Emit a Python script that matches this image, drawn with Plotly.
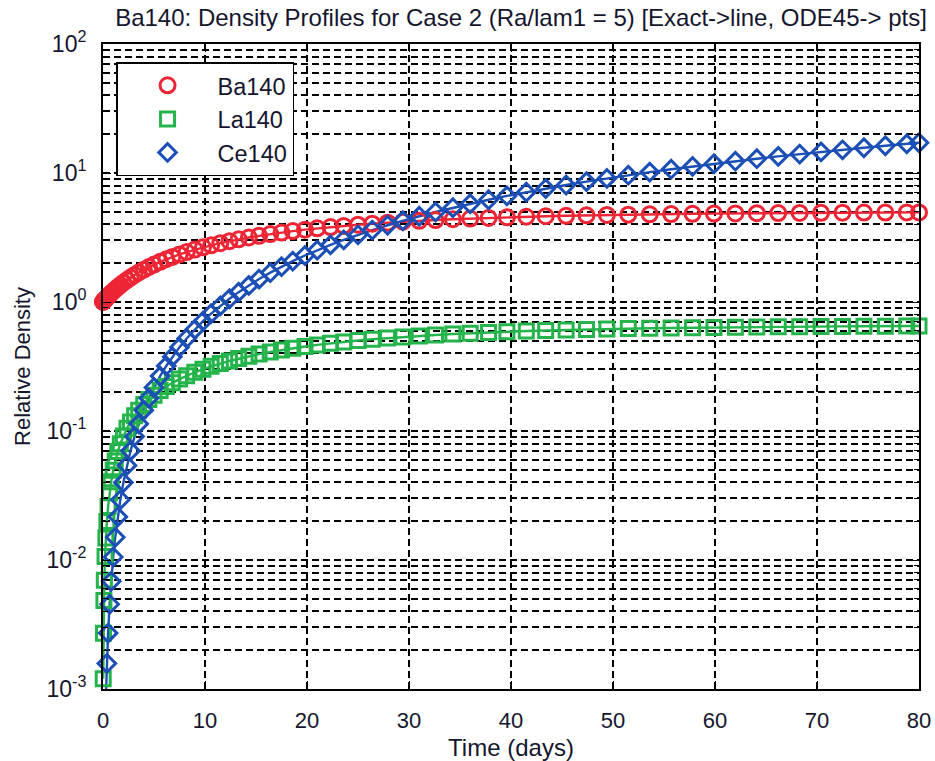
import plotly.graph_objects as go

# ---------------- data ----------------
time_days = [0, 0.022, 0.05, 0.09, 0.13, 0.2, 0.28, 0.38, 0.5, 0.65, 0.8, 1.0, 1.2, 1.45, 1.7,
             2.0, 2.35, 2.7, 3.1, 3.5, 4.0, 4.5, 5.0, 5.6, 6.2, 6.8, 7.5, 8.2, 9.0, 9.8, 10.6,
             11.5, 12.4, 13.3, 14.3, 15.3, 16.4, 17.5, 18.6, 19.8, 21.0, 22.3, 23.6, 25.0,
             26.4, 27.9, 29.4, 31.0, 32.6, 34.3, 36.0, 37.8, 39.6, 41.5, 43.4, 45.4, 47.4,
             49.4, 51.5, 53.6, 55.7, 57.8, 59.9, 62.0, 64.1, 66.2, 68.3, 70.4, 72.5, 74.6,
             76.7, 78.8, 80.0]

ba140 = [1.000, 1.0048, 1.0109, 1.0195, 1.0282, 1.0433, 1.0604, 1.0818, 1.1073, 1.1389,
         1.1702, 1.2116, 1.2526, 1.3032, 1.3531, 1.4121, 1.4797, 1.5460, 1.6203, 1.6930,
         1.7817, 1.8680, 1.9519, 2.0498, 2.1444, 2.2361, 2.3392, 2.4386, 2.5476, 2.6519,
         2.7519, 2.8592, 2.9614, 3.0588, 3.1615, 3.2587, 3.3598, 3.4550, 3.5447, 3.6366,
         3.7227, 3.8099, 3.8911, 3.9723, 4.0476, 4.1222, 4.1910, 4.2584, 4.3201, 4.3801,
         4.4349, 4.4875, 4.5353, 4.5809, 4.6220, 4.6609, 4.6959, 4.7272, 4.7566, 4.7829,
         4.8063, 4.8272, 4.8459, 4.8625, 4.8773, 4.8906, 4.9024, 4.9129, 4.9223, 4.9307,
         4.9382, 4.9448, 4.9483]

la140 = [None, 0.0012, 0.002705, 0.004849, 0.006977, 0.01066, 0.01481, 0.01989, 0.02594,
         0.03327, 0.04042, 0.04962, 0.05855, 0.06932, 0.07968, 0.09162, 0.10494, 0.11764,
         0.1315, 0.14472, 0.16045, 0.17539, 0.18965, 0.20593, 0.22143, 0.23621, 0.25266,
         0.26832, 0.28535, 0.30154, 0.31696, 0.33345, 0.3491, 0.36397, 0.37963, 0.39443,
         0.40981, 0.42428, 0.4379, 0.45185, 0.46492, 0.47815, 0.49048, 0.50281, 0.51423,
         0.52556, 0.53599, 0.54621, 0.55559, 0.56469, 0.57299, 0.58099, 0.58823, 0.59515,
         0.6014, 0.6073, 0.6126, 0.61735, 0.62182, 0.62581, 0.62936, 0.63253, 0.63536,
         0.63788, 0.64014, 0.64214, 0.64394, 0.64553, 0.64696, 0.64823, 0.64937, 0.65038,
         0.65091]

ce140 = [None, 5.4e-6, 2.8e-5, 9.1e-5, 1.9e-4, 4.43e-4, 8.63e-4, 0.001579, 0.002713,
         0.004538, 0.00683, 0.01055, 0.01501, 0.02161, 0.02929, 0.03989, 0.05409, 0.0702,
         0.09075, 0.11357, 0.14508, 0.17973, 0.2174, 0.26639, 0.3193, 0.37598, 0.4466,
         0.52186, 0.61325, 0.71016, 0.81224, 0.93302, 1.05978, 1.1922, 1.34562, 1.50536,
         1.6879, 1.87718, 2.07286, 2.29316, 2.52016, 2.77311, 3.03294, 3.31986, 3.61363,
         3.93542, 4.26395, 4.62123, 4.98494, 5.3779, 5.77696, 6.20554, 6.63976, 7.10365,
         7.5727, 8.07147, 8.57485, 9.08237, 9.61924, 10.15978, 10.70358, 11.2503, 11.7996,
         12.35123, 12.90492, 13.46046, 14.01764, 14.57629, 15.13624, 15.69736, 16.25953,
         16.82263, 17.14478]

series_names = ["Ba140", "La140", "Ce140"]
x_tick_vals = [0, 10, 20, 30, 40, 50, 60, 70, 80]
y_tick_vals = [1e-3, 1e-2, 1e-1, 1e0, 1e1, 1e2]
y_tick_text = ["10<sup>-3</sup>", "10<sup>-2</sup>", "10<sup>-1</sup>",
               "10<sup>0</sup>", "10<sup>1</sup>", "10<sup>2</sup>"]
title_text = "Ba140: Density Profiles for Case 2 (Ra/lam1 = 5) [Exact->line, ODE45-> pts]"

# ---------------- styling ----------------
colors = ["#EE2535", "#25B44C", "#1C4FB6"]
symbols = ["circle-open", "square-open", "diamond-open"]
sizes = [15, 14, 13.5]
FONT = "Liberation Sans, Arial, sans-serif"
TXT = "#15152e"
y_low, y_high = 1e-3, 1e2
minor_vals = [m * 10 ** e for e in range(-3, 2) for m in range(2, 10)]

fig = go.Figure()
all_series = [ba140, la140, ce140]

# exact solution -> line
for name, ys, col in zip(series_names, all_series, colors):
    fig.add_trace(go.Scatter(x=time_days, y=ys, mode="lines", name=name + " exact",
                             line=dict(color=col, width=2.4), showlegend=False,
                             hoverinfo="skip"))

# ODE45 -> points (only those inside the axis limits are drawn)
for name, ys, col, sym, sz in zip(series_names, all_series, colors, symbols, sizes):
    px = [t for t, v in zip(time_days, ys) if v is not None and y_low <= v <= y_high]
    py = [v for v in ys if v is not None and y_low <= v <= y_high]
    fig.add_trace(go.Scatter(x=px, y=py, mode="markers", name=name, cliponaxis=False,
                             marker=dict(symbol=sym, size=sz, color=col,
                                         line=dict(color=col, width=3))))

grid_common = dict(gridcolor="#000000", gridwidth=1.6, griddash="7px,4px")

fig.update_xaxes(range=[0, 80], tickmode="array", tickvals=x_tick_vals,
                 ticks="inside", ticklen=8, tickwidth=1.4, tickcolor="black",
                 showline=True, linecolor="black", linewidth=2, mirror="ticks",
                 showgrid=True, zeroline=False, **grid_common, automargin=False,
                 ticklabelstandoff=11,
                 tickfont=dict(family=FONT, size=22, color=TXT),
                 title=dict(text="Time (days)", standoff=9,
                            font=dict(family=FONT, size=24, color=TXT)))

fig.update_yaxes(type="log", range=[-3, 2], tickmode="array", tickvals=y_tick_vals,
                 ticktext=y_tick_text, ticks="inside", ticklen=8, tickwidth=1.4,
                 tickcolor="black", showline=True, linecolor="black", linewidth=2,
                 mirror="ticks", showgrid=True, zeroline=False, **grid_common,
                 automargin=False,
                 minor=dict(tickmode="array", tickvals=minor_vals, ticks="inside",
                            ticklen=5, tickcolor="black", showgrid=True, **grid_common),
                 ticklabelstandoff=10,
                 tickfont=dict(family=FONT, size=23, color=TXT),
                 title=dict(text="Relative Density", standoff=10,
                            font=dict(family=FONT, size=22, color=TXT)))

fig.update_layout(
    width=935, height=761,
    margin=dict(l=103, r=16, t=44, b=72, autoexpand=False),
    paper_bgcolor="white", plot_bgcolor="white",
    title=dict(text=title_text, xref="container", x=521 / 935, xanchor="center",
               yref="container", y=1 - 18 / 761, yanchor="middle",
               font=dict(family=FONT, size=24, color=TXT)),
    legend=dict(x=0.016, y=0.972, xanchor="left", yanchor="top",
                bgcolor="white", bordercolor="black", borderwidth=1.5,
                font=dict(family=FONT, size=23.5, color=TXT), itemwidth=90,
                tracegroupgap=4),
    showlegend=True,
)

fig.write_html("out.html")
